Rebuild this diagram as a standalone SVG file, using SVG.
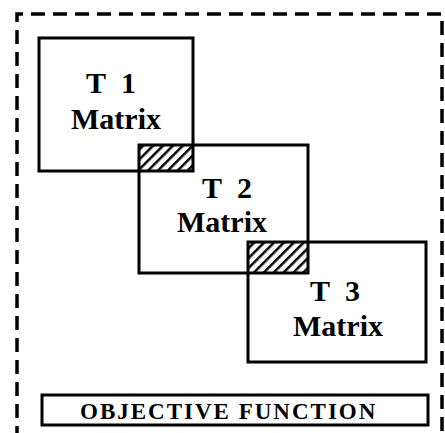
<svg xmlns="http://www.w3.org/2000/svg" width="445" height="433" viewBox="0 0 445 433">
  <style>
    .box { fill: none; stroke: #000; stroke-width: 3; }
    .frame { fill: none; stroke: #000; stroke-width: 3.5; stroke-dasharray: 14 8; }
    .lbl { font-family: "Liberation Serif", "Times New Roman", serif; font-weight: bold; font-size: 30px; fill: #000; text-anchor: middle; }
    .num { word-spacing: 8px; }
    .obj { font-family: "Liberation Serif", "Times New Roman", serif; font-weight: bold; font-size: 23px; fill: #000; letter-spacing: 2px; }
  </style>
  <defs>
    <pattern id="hatch" patternUnits="userSpaceOnUse" width="7" height="7" patternTransform="rotate(45)">
      <rect width="7" height="7" fill="#fff"/>
      <line x1="0" y1="0" x2="0" y2="7" stroke="#000" stroke-width="5"/>
    </pattern>
  </defs>
  <rect width="445" height="433" fill="#fff"/>

  <!-- dashed system boundary -->
  <path class="frame" d="M17,440 V14 H442 V440"/>

  <!-- overlap regions between consecutive matrices -->
  <g id="overlaps">
    <rect x="139" y="145" width="54" height="26" fill="url(#hatch)"/>
    <rect x="248" y="242" width="60" height="31" fill="url(#hatch)"/>
  </g>

  <g id="t1">
    <rect class="box" x="39" y="38" width="154" height="133"/>
    <text class="lbl num" x="111" y="93">T 1</text>
    <text class="lbl" x="116" y="129">Matrix</text>
  </g>
  <g id="t2">
    <rect class="box" x="139" y="145" width="169" height="128"/>
    <text class="lbl num" x="227" y="198">T 2</text>
    <text class="lbl" x="222" y="232">Matrix</text>
  </g>
  <g id="t3">
    <rect class="box" x="248" y="242" width="178" height="120"/>
    <text class="lbl num" x="335" y="301">T 3</text>
    <text class="lbl" x="338" y="336">Matrix</text>
  </g>
  <g id="objective">
    <rect class="box" x="42" y="395" width="386" height="30"/>
    <text class="obj" x="80" y="419">OBJECTIVE FUNCTION</text>
  </g>
  <g id="connectors"/>
</svg>
